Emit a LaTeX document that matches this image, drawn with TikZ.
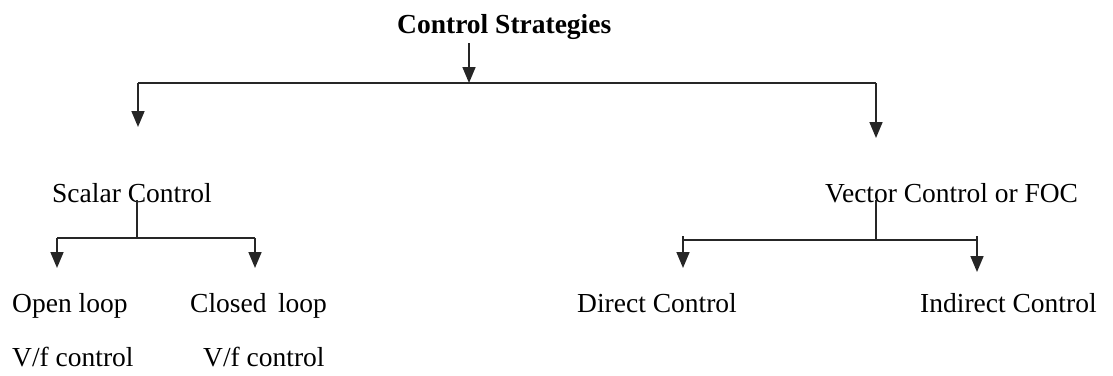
\documentclass[tikz,border=0pt]{standalone}
\usepackage{fontspec}
\setmainfont{Liberation Serif}
\usetikzlibrary{arrows.meta,positioning}
\tikzset{
  lbl/.style={inner sep=0pt, anchor=base west, font=\fontsize{27.5}{30}\selectfont},
  link/.style={line width=1.7pt, draw=black!85},
  arr/.style={link, -{Triangle[width=13pt,length=16pt]}},
}
\begin{document}
\begin{tikzpicture}[x=1pt,y=-1pt]
  \useasboundingbox (0,0) rectangle (1113,375);

  % Root
  \node[lbl,font=\fontsize{27.5}{30}\selectfont\bfseries] (root) at (397,33) {Control Strategies};
  \coordinate (rootout) at (469,43);
  \coordinate (split) at (469,83);
  \draw[arr] (rootout) -- (split);

  % Main bar
  \coordinate (lbar) at (138,83);
  \coordinate (rbar) at (876,83);
  \draw[link] (lbar) -- (rbar);

  % Scalar branch
  \node[lbl] (scalar) at (52,202) {Scalar Control};
  \coordinate (scalarin) at (138,127);
  \draw[arr] (lbar) -- (scalarin);
  \coordinate (scalarout) at (137,200);
  \coordinate (sjoin) at (137,238);
  \coordinate (sl) at (57,238);
  \coordinate (sr) at (255,238);
  \draw[link] (scalarout) -- (sjoin);
  \draw[link] (sl) -- (sr);

  % Vector branch
  \node[lbl] (vector) at (825,202) {Vector Control or FOC};
  \coordinate (vectorin) at (876,138);
  \draw[arr] (rbar) -- (vectorin);
  \coordinate (vectorout) at (876,200);
  \coordinate (vjoin) at (876,240);
  \coordinate (vl) at (683,240);
  \coordinate (vr) at (977,240);
  \draw[link] (vectorout) -- (vjoin);
  \draw[link] (vl) -- (vr);

  % Leaves
  \node[lbl] (open) at (12,312) {Open loop};
  \node[lbl] (openvf) at (12,366) {V/f control};
  \node[lbl] (closed) at (190,312) {Closed\, loop};
  \node[lbl] (closedvf) at (203,366) {V/f control};
  \node[lbl] (direct) at (577,312) {Direct Control};
  \node[lbl] (indirect) at (920,312) {Indirect Control};

  \coordinate (openin) at (57,268);
  \coordinate (closedin) at (255,268);
  \coordinate (directin) at (683,268);
  \coordinate (indirectin) at (977,272);
  \draw[arr] (sl) -- (openin);
  \draw[arr] (sr) -- (closedin);
  \draw[arr] ([yshift=4pt]vl) -- (directin);
  \draw[arr] ([yshift=4pt]vr) -- (indirectin);
\end{tikzpicture}
\end{document}
